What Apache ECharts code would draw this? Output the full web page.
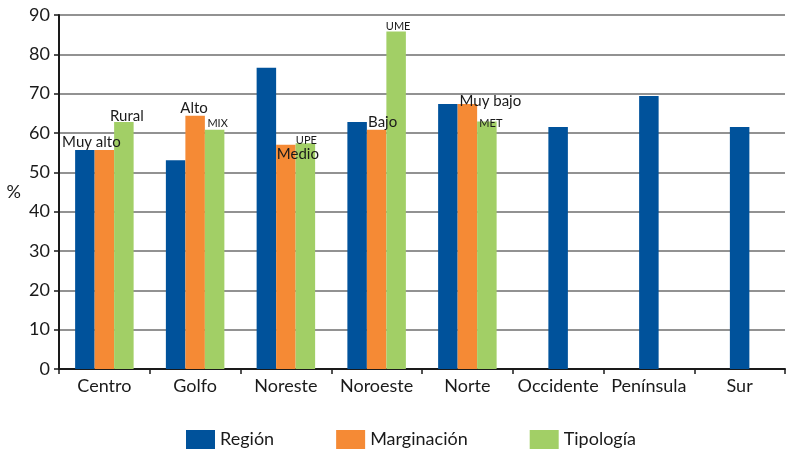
<!DOCTYPE html>
<html>
<head>
<meta charset="utf-8">
<script src="https://cdn.jsdelivr.net/npm/echarts@6/dist/echarts.min.js"></script>
<style>
  html, body { margin: 0; padding: 0; background: #fff; }
  #chart { width: 786px; height: 450px; }
</style>
</head>
<body>
<div id="chart"></div>
<script>
// Categories and values (%)
const categories = ['Centro', 'Golfo', 'Noreste', 'Noroeste', 'Norte', 'Occidente', 'Península', 'Sur'];
const regionGrouped = [55.7, 53.1, 76.6, 62.8, 67.4, null, null, null];
const regionSingle = [null, null, null, null, null, 61.5, 69.4, 61.5];
const marginacion = [55.7, 64.4, 57.0, 60.8, 67.4, null, null, null];
const tipologia = [62.8, 60.8, 57.4, 85.8, 62.9, null, null, null];
const marginacionLabels = ['Muy alto', 'Alto', 'Medio', 'Bajo', 'Muy bajo'];
const tipologiaLabels = ['Rural', 'MIX', 'UPE', 'UME', 'MET'];
const yTicks = [0, 10, 20, 30, 40, 50, 60, 70, 80, 90];

// Label placement tweaks (pixels) and sizes per category
const margOffsets = [[-13, 0], [-1, 0], [12, 17], [6, 0], [23, 5]];
const tipoOffsets = [[3, 2], [3, -1], [1, 3], [2, 0], [4, 7]];
const tipoSizes = [15, 11, 11, 11, 11];

const FONT = 'Lato';
const BAR_W = 19.5;

function withLabels(values, texts, offsets, sizes) {
  return values.map((v, i) => {
    if (v == null || texts[i] == null) return v;
    return {
      value: v,
      label: {
        show: true,
        position: 'top',
        distance: 0,
        offset: offsets[i],
        formatter: texts[i],
        fontFamily: FONT,
        fontSize: sizes[i],
        color: '#1a1a1a'
      }
    };
  });
}

const chart = echarts.init(document.getElementById('chart'), null, { renderer: 'canvas' });

const catAxisBase = {
  type: 'category',
  data: categories,
  boundaryGap: true
};

chart.setOption({
  animation: false,
  textStyle: { fontFamily: FONT },
  grid: { left: 59, right: 1, top: 15, bottom: 81, containLabel: false },
  legend: {
    data: ['Región', 'Marginación', 'Tipología'],
    bottom: 1,
    left: 186,
    padding: 0,
    itemWidth: 29,
    itemHeight: 19,
    itemGap: 62,
    icon: 'rect',
    textStyle: { fontFamily: FONT, fontSize: 18, color: '#1a1a1a' },
    selectedMode: false
  },
  xAxis: [
    Object.assign({}, catAxisBase, {
      axisLine: { lineStyle: { color: '#1a1a1a', width: 2 } },
      axisTick: { show: true, length: 5, lineStyle: { color: '#1a1a1a', width: 1.5 } },
      axisLabel: { fontFamily: FONT, fontSize: 18, color: '#1a1a1a', margin: 8, interval: 0 }
    }),
    Object.assign({}, catAxisBase, {
      position: 'bottom',
      show: false
    })
  ],
  yAxis: {
    type: 'value',
    min: yTicks[0],
    max: yTicks[yTicks.length - 1],
    interval: 10,
    name: '%',
    nameLocation: 'middle',
    nameRotate: 0,
    nameGap: 38,
    nameTextStyle: { fontFamily: FONT, fontSize: 18, color: '#1a1a1a' },
    axisLine: { show: true, lineStyle: { color: '#1a1a1a', width: 2 } },
    axisTick: { show: true, length: 5, lineStyle: { color: '#1a1a1a', width: 1.5 } },
    axisLabel: { fontFamily: FONT, fontSize: 18, color: '#1a1a1a', margin: 9 },
    splitLine: { show: true, lineStyle: { color: '#6e6e6e', width: 1.5 } }
  },
  series: [
    {
      name: 'Región', type: 'bar', xAxisIndex: 0,
      barWidth: BAR_W, barGap: '0%',
      itemStyle: { color: '#00529b' },
      data: regionGrouped
    },
    {
      name: 'Marginación', type: 'bar', xAxisIndex: 0,
      barWidth: BAR_W, barGap: '0%',
      itemStyle: { color: '#f58a35' },
      data: withLabels(marginacion, marginacionLabels, margOffsets, [15, 15, 15, 15, 15])
    },
    {
      name: 'Tipología', type: 'bar', xAxisIndex: 0,
      barWidth: BAR_W, barGap: '0%',
      itemStyle: { color: '#a2cf66' },
      data: withLabels(tipologia, tipologiaLabels, tipoOffsets, tipoSizes)
    },
    {
      name: 'Región', type: 'bar', xAxisIndex: 1,
      barWidth: BAR_W,
      itemStyle: { color: '#00529b' },
      data: regionSingle
    }
  ]
});
</script>
</body>
</html>
